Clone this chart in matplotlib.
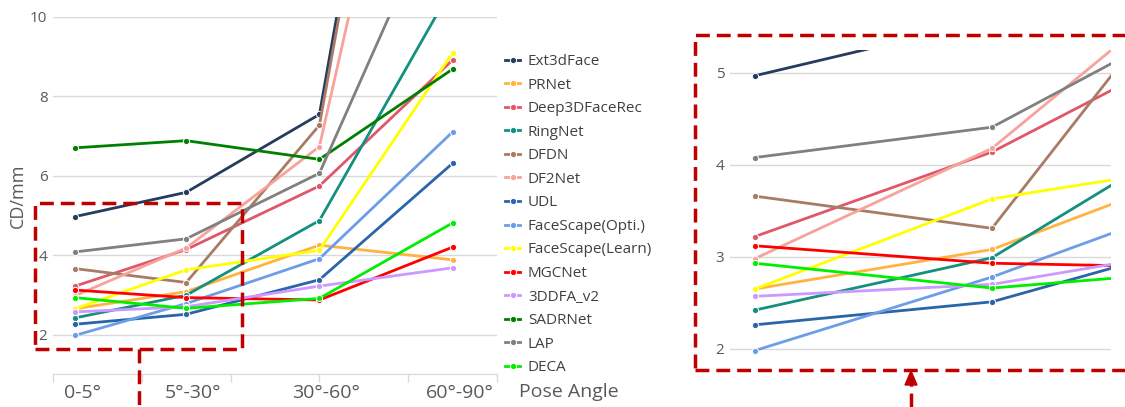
import matplotlib.pyplot as plt
from matplotlib.patches import Rectangle
from matplotlib.lines import Line2D
import matplotlib.transforms as mtransforms

plt.rcParams['font.family'] = ['Open Sans', 'DejaVu Sans']

# 데이터 (CD/mm, 포즈 각도별)
categories = ['0-5°', '5°-30°', '30°-60°', '60°-90°']
x_pos = [0, 1, 2.2, 3.4]

methods = ['Ext3dFace', 'PRNet', 'Deep3DFaceRec', 'RingNet', 'DFDN', 'DF2Net', 'UDL',
           'FaceScape(Opti.)', 'FaceScape(Learn)', 'MGCNet', '3DDFA_v2', 'SADRNet', 'LAP', 'DECA']

ext3dface = [4.97, 5.58, 7.54, 26.5]
prnet = [2.65, 3.08, 4.25, 3.88]
deep3dfacerec = [3.22, 4.14, 5.74, 8.91]
ringnet = [2.42, 2.99, 4.87, 10.75]
dfdn = [3.66, 3.31, 7.27, 25.8]
df2net = [2.98, 4.18, 6.73, 21.6]
udl = [2.26, 2.51, 3.38, 6.31]
facescape_opti = [1.98, 2.78, 3.91, 7.10]
facescape_learn = [2.65, 3.63, 4.12, 9.09]
mgcnet = [3.12, 2.93, 2.87, 4.20]
ddfa_v2 = [2.57, 2.70, 3.22, 3.68]
sadrnet = [6.70, 6.88, 6.41, 8.68]
lap = [4.08, 4.41, 6.06, 13.6]
deca = [2.93, 2.66, 2.91, 4.81]

series = [ext3dface, prnet, deep3dfacerec, ringnet, dfdn, df2net, udl,
          facescape_opti, facescape_learn, mgcnet, ddfa_v2, sadrnet, lap, deca]
colors = ['#263c5e', '#ffb340', '#e0576a', '#13907e', '#a87c64', '#f7a39c', '#2a65aa',
          '#6e9de8', '#ffff00', '#ff0000', '#cc99ff', '#008000', '#808080', '#00ee00']

W, H = 1125, 407
fig = plt.figure(figsize=(W / 100, H / 100), dpi=100)


def fbox(x0, y0, x1, y1):
    # 픽셀 좌표 -> figure 좌표
    return [x0 / W, 1 - y1 / H, (x1 - x0) / W, (y1 - y0) / H]


tick_color = '#595959'
grid_color = '#d9d9d9'

# 왼쪽 전체 그래프
ax = fig.add_axes(fbox(53, 16.7, 497, 374.3))
handles = []
for name, vals, c in zip(methods, series, colors):
    h, = ax.plot(x_pos, vals, color=c, linewidth=2, marker='o', markersize=4.5,
                 markeredgecolor='white', markeredgewidth=0.7, label=name)
    handles.append(h)
ax.set_xlim(-0.2, 3.8)
ax.set_ylim(1, 10)
ax.set_yticks([2, 4, 6, 8, 10])
ax.set_xticks(x_pos)
ax.set_xticklabels(categories, fontsize=14, color=tick_color)
ax.xaxis.remove_overlapping_locs = False
ax.set_xticks([-0.2, 0.6, 1.4, 2.2, 3.0, 3.8], minor=True)
ax.tick_params(axis='x', which='major', length=0, pad=7)
ax.tick_params(axis='x', which='minor', length=6, color=grid_color, width=1)
ax.tick_params(axis='y', length=0, labelsize=11, labelcolor=tick_color, pad=4)
shift = mtransforms.ScaledTranslation(7 / 100, 0, fig.dpi_scale_trans)
for lab in ax.get_xticklabels():
    lab.set_transform(lab.get_transform() + shift)
ax.grid(axis='y', color=grid_color, linewidth=1)
ax.set_axisbelow(True)
for s in ['top', 'right', 'left']:
    ax.spines[s].set_visible(False)
ax.spines['bottom'].set_color(grid_color)
ax.set_ylabel('CD/mm', fontsize=13, color=tick_color, labelpad=2)

# 오른쪽 확대 그래프
ax2 = fig.add_axes(fbox(730, 50, 1111, 362.5))
for vals, c in zip(series, colors):
    ax2.plot(x_pos, vals, color=c, linewidth=2, marker='o', markersize=4.5,
             markeredgecolor='white', markeredgewidth=0.7)
ax2.set_xlim(-0.105, 1.502)
ax2.set_ylim(1.85, 5.25)
ax2.set_yticks([2, 3, 4, 5])
ax2.set_xticks([])
ax2.tick_params(axis='y', length=0, labelsize=11, labelcolor=tick_color, pad=4)
ax2.grid(axis='y', color=grid_color, linewidth=1)
ax2.set_axisbelow(True)
for s in ax2.spines.values():
    s.set_visible(False)

# 범례
fig.legend(handles, methods, loc='upper left', bbox_to_anchor=(505 / W, 1 - 54 / H),
           frameon=False, fontsize=11, handlelength=1.0, handletextpad=0.5,
           labelspacing=0.56, borderpad=0, borderaxespad=0, labelcolor='#404040')
fig.text(519 / W, 1 - 392 / H, 'Pose Angle', fontsize=14, color=tick_color, va='center')

# 빨간 점선 박스와 화살표
red = '#c00000'
dash = (0, (4, 2))
fig.patches.append(Rectangle((35 / W, 1 - 349 / H), 207 / W, 146 / H, transform=fig.transFigure,
                             fill=False, edgecolor=red, linewidth=2.5, linestyle=dash))
fig.lines.append(Line2D([139 / W, 139 / W], [1 - 349 / H, 0], transform=fig.transFigure,
                        color=red, linewidth=2.5, linestyle=dash))
fig.patches.append(Rectangle((695 / W, 1 - 370 / H), 440 / W, 335 / H, transform=fig.transFigure,
                             fill=False, edgecolor=red, linewidth=2.5, linestyle=dash))
fig.lines.append(Line2D([911 / W, 911 / W], [0, 1 - 384 / H], transform=fig.transFigure,
                        color=red, linewidth=2.5, linestyle=dash))
fig.add_artist(plt.Polygon([[905 / W, 1 - 385 / H], [917 / W, 1 - 385 / H], [911 / W, 1 - 371 / H]],
                           closed=True, transform=fig.transFigure, color=red))

fig.savefig('out.png', dpi=100)
